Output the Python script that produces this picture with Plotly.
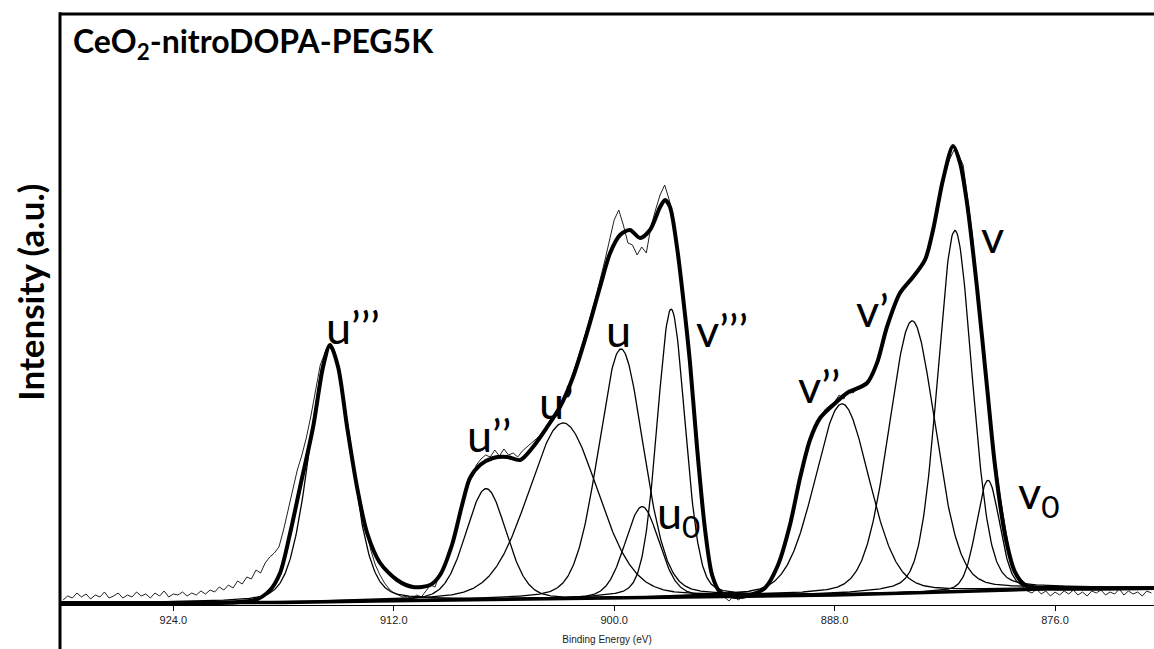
import numpy as np
import plotly.graph_objects as go

# ---------------- data ----------------
x_range = [930.17, 870.61]
tick_vals = [924, 912, 900, 888, 876]
tick_text = ["924.0", "912.0", "900.0", "888.0", "876.0"]

# fitted components (centre eV, height above background, FWHM eV)
peak_names = ["u’’’", "u’’", "u’", "u", "u0", "v’’’", "v’’", "v’", "v", "v0"]
peak_centers = [915.47, 906.97, 902.78, 899.63, 898.48, 896.90, 887.60, 883.78, 881.45, 879.65]
peak_heights = [257, 111, 176, 249, 91, 288, 191, 272, 361, 110]
peak_fwhm = [2.6, 2.6, 4.5, 2.9, 2.2, 1.8, 3.5, 3.0, 2.2, 1.5]

# Shirley background
bg_energy = [930.17, 918.0, 913.0, 909.0, 903.0, 898.0, 894.0, 888.0, 884.0, 880.0, 876.0, 870.61]
bg_intensity = [2, 2.5, 4, 5, 6, 7.5, 9, 10, 12, 14.5, 16.5, 17]

# fit envelope
env_energy = [930.17, 925.27, 919.55, 918.73, 918.19, 917.64, 917.10, 916.39, 915.85, 915.47,
              915.03, 914.54, 914.00, 913.45, 912.74, 911.82, 910.95, 910.02, 909.48, 908.83,
              908.28, 907.85, 907.30, 906.59, 905.83, 905.12, 904.42, 903.65, 902.95, 902.24,
              901.48, 900.77, 900.22, 899.68, 899.14, 898.59, 898.05, 897.50, 897.23, 896.96,
              896.58, 896.25, 895.87, 895.49, 895.05, 894.67, 894.24, 893.42, 892.60, 891.79,
              891.08, 890.43, 889.88, 889.34, 888.79, 888.08, 887.32, 886.23, 885.69, 885.15,
              884.44, 883.73, 883.08, 882.64, 882.10, 881.55, 881.17, 880.79, 880.25, 879.70,
              879.27, 878.72, 878.18, 877.63, 876.82, 870.61]
env_intensity = [2, 2, 5, 15, 32, 72, 118, 178, 238, 260,
                 238, 178, 118, 72, 42, 25, 18, 20, 30, 60,
                 100, 127, 140, 147, 148, 145, 158, 178, 198, 228,
                 272, 318, 352, 370, 375, 367, 375, 398, 405, 398,
                 358, 308, 242, 158, 75, 30, 13, 8, 10, 17,
                 40, 80, 127, 165, 187, 200, 212, 222, 242, 278,
                 312, 328, 345, 375, 425, 459, 442, 402, 318, 218,
                 140, 70, 33, 20, 17, 17]

# raw spectrum
raw_energy = [930.0, 929.75, 929.5, 929.25, 929.0, 928.75, 928.5, 928.25, 928.0, 927.75,
              927.5, 927.25, 927.0, 926.75, 926.5, 926.25, 926.0, 925.75, 925.5, 925.25,
              925.0, 924.75, 924.5, 924.25, 924.0, 923.75, 923.5, 923.25, 923.0, 922.75,
              922.5, 922.25, 922.0, 921.75, 921.5, 921.25, 921.0, 920.75, 920.5, 920.25,
              920.0, 919.75, 919.5, 919.25, 919.0, 918.75, 918.5, 918.25, 918.0, 917.75,
              917.5, 917.25, 917.0, 916.75, 916.5, 916.25, 916.0, 915.75, 915.5, 915.25,
              915.0, 914.75, 914.5, 914.25, 914.0, 913.75, 913.5, 913.25, 913.0, 912.75,
              912.5, 912.25, 912.0, 911.75, 911.5, 911.25, 911.0, 910.75, 910.5, 910.25,
              910.0, 909.75, 909.5, 909.25, 909.0, 908.75, 908.5, 908.25, 908.0, 907.75,
              907.5, 907.25, 907.0, 906.75, 906.5, 906.25, 906.0, 905.75, 905.5, 905.25,
              905.0, 904.5, 904.0, 903.5, 903.0, 902.5, 902.0, 901.5, 901.0, 900.5,
              900.25, 900.0, 899.75, 899.5, 899.25, 899.0, 898.75, 898.5, 898.25, 898.0,
              897.75, 897.5, 897.25, 897.0, 896.75, 896.5, 896.25, 896.0, 895.75, 895.5,
              895.25, 895.0, 894.75, 894.5, 894.25, 894.0, 893.75, 893.5, 893.25, 893.0,
              892.5, 892.0, 891.5, 891.0, 890.5, 890.0, 889.5, 889.0, 888.5, 888.0,
              887.75, 887.5, 887.25, 887.0, 886.5, 886.0, 885.5, 885.0, 884.5, 884.0,
              883.5, 883.0, 882.5, 882.0, 881.75, 881.5, 881.25, 881.0, 880.75, 880.5,
              880.25, 880.0, 879.75, 879.5, 879.0, 878.5, 878.25, 878.0, 877.75, 877.5,
              877.25, 877.0, 876.75, 876.5, 876.25, 876.0, 875.75, 875.5, 875.25, 875.0,
              874.75, 874.5, 874.25, 874.0, 873.75, 873.5, 873.25, 873.0, 872.75, 872.5,
              872.25, 872.0, 871.75, 871.5, 871.25, 871.0, 870.75]
raw_intensity = [5, 9, 7, 12, 8, 11, 6, 10, 8, 13,
                 7, 9, 12, 7, 10, 8, 13, 9, 11, 7,
                 12, 9, 14, 8, 11, 10, 13, 9, 12, 10,
                 14, 11, 15, 13, 18, 15, 20, 17, 24, 21,
                 28, 26, 35, 32, 42, 48, 52, 58, 75, 95,
                 115, 135, 150, 168, 190, 215, 240, 252, 258, 252,
                 236, 210, 180, 150, 120, 95, 75, 55, 40, 30,
                 22, 16, 12, 10, 8, 9, 6, 10, 8, 14,
                 20, 18, 32, 38, 55, 62, 85, 100, 118, 128,
                 140, 146, 150, 148, 155, 149, 156, 150, 152, 148,
                 154, 162, 170, 182, 198, 218, 245, 275, 308, 345,
                 365, 385, 395, 380, 362, 360, 350, 358, 352, 378,
                 395, 410, 420, 405, 385, 350, 305, 260, 215, 160,
                 115, 70, 40, 22, 12, 8, 4, 9, 5, 8,
                 11, 14, 24, 45, 78, 118, 155, 180, 196, 203,
                 210, 206, 215, 212, 220, 226, 250, 285, 310, 322,
                 335, 350, 385, 430, 445, 455, 450, 440, 405, 370,
                 320, 270, 225, 180, 110, 55, 35, 25, 18, 14,
                 12, 16, 11, 14, 9, 13, 10, 14, 11, 15,
                 10, 13, 9, 14, 12, 15, 10, 13, 11, 16,
                 10, 14, 11, 13, 9, 14, 12]

# ---------------- figure ----------------
energies = np.linspace(x_range[0], x_range[1], 1500)
bg_on_grid = np.interp(energies, bg_energy[::-1], bg_intensity[::-1])


def gl_peak(e, c, h, w, m=0.2):
    t = 4.0 * (e - c) ** 2 / w ** 2
    return h * ((1 - m) * np.exp(-np.log(2) * t) + m / (1 + t))


fig = go.Figure()

fig.add_trace(go.Scatter(x=raw_energy, y=raw_intensity, mode="lines",
                         line=dict(color="#222222", width=1), hoverinfo="skip"))

for name, c, h, w in zip(peak_names, peak_centers, peak_heights, peak_fwhm):
    fig.add_trace(go.Scatter(x=energies, y=bg_on_grid + gl_peak(energies, c, h, w),
                             mode="lines", name=name,
                             line=dict(color="black", width=1.3)))

fig.add_trace(go.Scatter(x=env_energy, y=env_intensity, mode="lines",
                         line=dict(color="black", width=4, shape="spline", smoothing=0.8)))

fig.add_trace(go.Scatter(x=bg_energy, y=bg_intensity, mode="lines",
                         line=dict(color="black", width=3.5)))

label_font = dict(family="Lato", size=45, color="black")
label_pos = [
    ("u’’’", 915.80, 278),
    ("u’’", 908.10, 170),
    ("u’", 904.20, 203),
    ("u", 900.55, 275),
    ("u<sub>0</sub>", 897.80, 90),
    ("v’’’", 895.65, 275),
    ("v’’", 890.10, 219),
    ("v’", 886.95, 295),
    ("v", 880.15, 369),
    ("v<sub>0</sub>", 878.10, 110),
]
annotations = []
for txt, xe, yi in label_pos:
    annotations.append(dict(text=txt, x=xe, y=yi, xref="x", yref="y",
                            xanchor="left", yanchor="middle", showarrow=False,
                            font=label_font))

annotations.append(dict(text="<b>CeO<sub>2</sub>-nitroDOPA-PEG5K</b>",
                        x=0.010, y=0.951, xref="paper", yref="paper",
                        xanchor="left", yanchor="middle", showarrow=False,
                        font=dict(family="Lato", size=32, color="black")))
annotations.append(dict(text="<b>Intensity (a.u.)</b>", textangle=-90,
                        x=-0.0275, y=0.53, xref="paper", yref="paper",
                        xanchor="center", yanchor="middle", showarrow=False,
                        font=dict(family="Lato", size=35, color="black")))

fig.update_layout(
    width=1154, height=649,
    margin=dict(l=60, r=0, t=14, b=44),
    paper_bgcolor="white", plot_bgcolor="white",
    showlegend=False,
    annotations=annotations,
    shapes=[
        dict(type="line", xref="paper", yref="paper", x0=0, x1=1.05, y0=1, y1=1,
             line=dict(color="black", width=3)),
        dict(type="line", xref="paper", yref="paper", x0=0, x1=0, y0=1.003, y1=-0.1,
             line=dict(color="black", width=3)),
    ],
)
fig.update_xaxes(range=x_range, tickvals=tick_vals, ticktext=tick_text,
                 showline=True, linecolor="black", linewidth=1,
                 ticks="outside", ticklen=5, tickwidth=1, tickcolor="black",
                 showgrid=False, zeroline=False,
                 tickfont=dict(family="Liberation Sans", size=11, color="#222222"),
                 title=dict(text="Binding Energy (eV)", standoff=10,
                            font=dict(family="Liberation Sans", size=10, color="#222222")))
fig.update_yaxes(range=[0, 591], visible=False, showgrid=False, zeroline=False)

fig.write_html("out.html",
               config={"displayModeBar": False},
               post_script="document.body.style.margin='0px';document.body.style.overflow='hidden';")
